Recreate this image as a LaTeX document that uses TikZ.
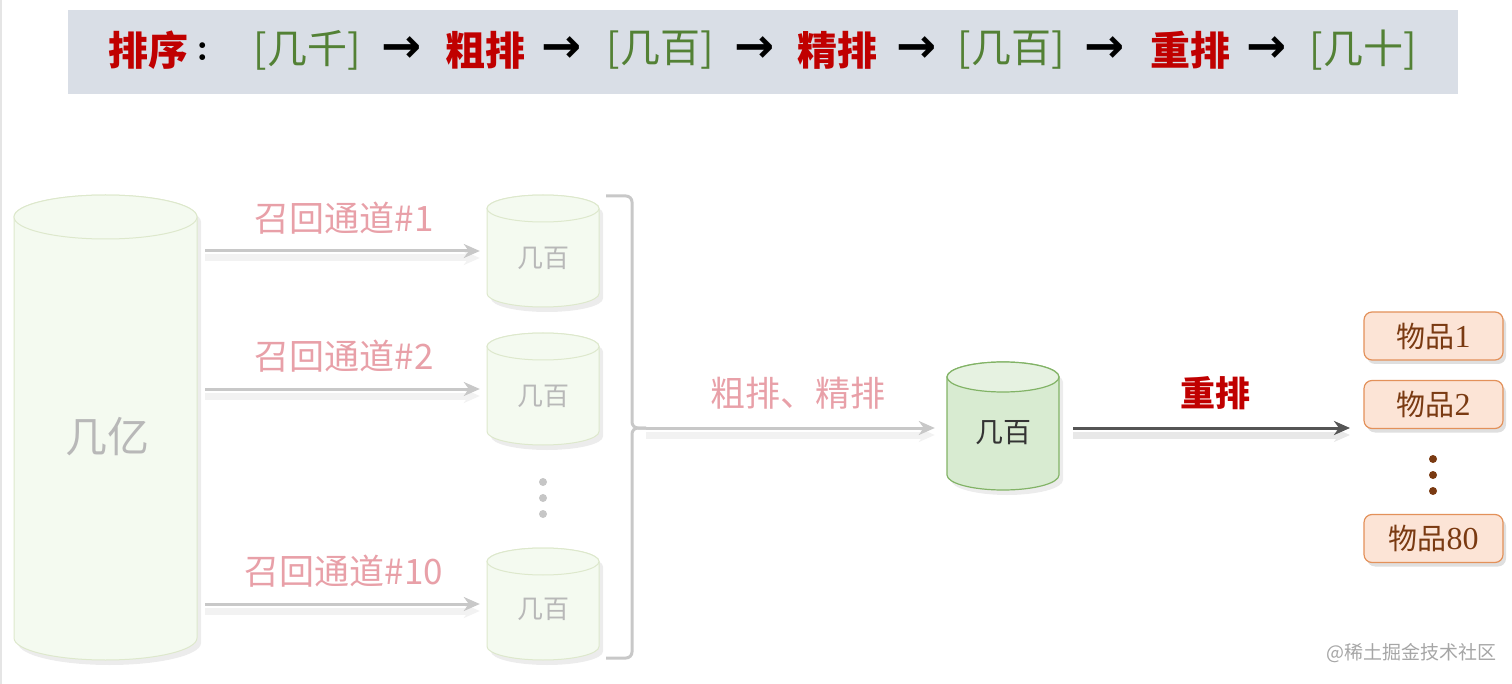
\documentclass[tikz,border=0pt]{standalone}
\usepackage{fontspec}
\newfontfamily\cjk{Noto Sans CJK SC}
\newfontfamily\dv{DejaVu Sans}
\newfontfamily\serifdg{Liberation Serif}
\usetikzlibrary{arrows.meta,shadows,calc}
\definecolor{barbg}{HTML}{D9DEE6}
\definecolor{redt}{HTML}{C00000}
\definecolor{greent}{HTML}{538135}
\definecolor{pinkt}{HTML}{E8A0A8}
\definecolor{fadegray}{HTML}{B8B8B8}
\definecolor{fadearr}{HTML}{C8C8C8}
\definecolor{cylfade}{HTML}{F4FAF0}
\definecolor{cylfadeline}{HTML}{DDE8CC}
\definecolor{cylmid}{HTML}{D8EBD1}
\definecolor{cylmidtop}{HTML}{E6F2E1}
\definecolor{cylmidline}{HTML}{82B366}
\definecolor{itemfill}{HTML}{FCE4D6}
\definecolor{itemline}{HTML}{E3915A}
\definecolor{itemtext}{HTML}{7A3A12}
\definecolor{darkarr}{HTML}{555555}
\newcommand\dbcyl[7]{% style, name, cx, ytop, ybot, rx, ry
  \path[#1,drop shadow={opacity=0.15,shadow xshift=4pt,shadow yshift=-5pt}]
    (#3-#6,-#4) -- (#3-#6,-#5)
    arc[start angle=180,end angle=360,x radius=#6,y radius=#7]
    -- (#3+#6,-#4)
    arc[start angle=0,end angle=180,x radius=#6,y radius=#7] -- cycle;
  \path[#1 top] (#3,-#4) ellipse[x radius=#6,y radius=#7];
  \node[inner sep=0,minimum width=2*#6,minimum height=#5-#4+2*#7] (#2) at (#3,{-(#4+#5)/2}) {};
}
\newcommand\dg[1]{{\serifdg\fontsize{32}{36}\selectfont #1}}
\begin{document}
\begin{tikzpicture}[x=1pt,y=1pt,
  fade/.style={fill=cylfade,draw=cylfadeline,line width=1},
  fade top/.style={fill=cylfade,draw=cylfadeline,line width=1},
  midc/.style={fill=cylmid,draw=cylmidline,line width=1.2},
  midc top/.style={fill=cylmidtop,draw=cylmidline,line width=1.2},
  bartext/.style={inner sep=0,font=\cjk\fontsize{40}{44}\selectfont},
  redword/.style={bartext,text=redt,font=\cjk\bfseries\fontsize{40}{44}\selectfont},
  greenword/.style={bartext,text=greent},
  barrow/.style={inner sep=0,font=\dv\bfseries\fontsize{48}{52}\selectfont,text=black},
  pinklabel/.style={inner sep=0,text=pinkt,font=\cjk\fontsize{35}{38}\selectfont},
  fadetext/.style={inner sep=0,text=fadegray,font=\cjk\fontsize{26}{30}\selectfont},
  fadearrow/.style={draw=fadearr,line width=3,-{Stealth[length=16,width=14,inset=5]},
     preaction={draw=black!5,line width=7,transform canvas={yshift=-7pt}}},
  darkarrow/.style={draw=darkarr,line width=3,-{Stealth[length=16,width=14,inset=5]},
     preaction={draw=black!9,line width=7,transform canvas={yshift=-7pt}}},
  bracestyle/.style={draw=fadearr,line width=3,rounded corners=6},
  item/.style={draw=itemline,fill=itemfill,line width=1.2,rounded corners=8,
     minimum width=139,minimum height=48,inner sep=0,text=itemtext,
     font=\cjk\fontsize{29}{32}\selectfont,
     drop shadow={opacity=0.25,shadow xshift=3pt,shadow yshift=-4pt}},
]
\useasboundingbox (0,0) rectangle (1512,-684);
\draw[draw=black!10,line width=1.5] (1,0) -- (1,-684);

% top bar
\node[fill=barbg,minimum width=1390,minimum height=84,inner sep=0] (bar) at (763,-52) {};
\node[redword,anchor=west] (t0) at (108,-50) {排序};
\node[bartext,text=black,font=\bfseries\fontsize{40}{44}\selectfont] (t0c) at (203,-52) {:};
\node[greenword] (t1) at (307,-50) {[几千]};
\node[barrow] (a1) at (402,-50) {→};
\node[redword] (t2) at (485,-50) {粗排};
\node[barrow] (a2) at (562,-50) {→};
\node[greenword] (t3) at (660,-50) {[几百]};
\node[barrow] (a3) at (755,-50) {→};
\node[redword] (t4) at (837,-50) {精排};
\node[barrow] (a4) at (917,-50) {→};
\node[greenword] (t5) at (1011,-50) {[几百]};
\node[barrow] (a5) at (1105,-50) {→};
\node[redword] (t6) at (1190,-50) {重排};
\node[barrow] (a6) at (1267,-50) {→};
\node[greenword] (t7) at (1363,-50) {[几十]};

% cylinders
\dbcyl{fade}{big}{105.5}{217}{638}{91.5}{22}
\node[fadetext,font=\cjk\fontsize{42}{46}\selectfont] (bigt) at (107,-437) {几亿};
\dbcyl{fade}{c1}{543}{208.5}{293.5}{56}{13.5}
\dbcyl{fade}{c2}{543}{346.5}{431.5}{56}{13.5}
\dbcyl{fade}{c3}{543}{561.5}{646.5}{56}{13.5}
\node[fadetext] (c1t) at (543,-258) {几百};
\node[fadetext] (c2t) at (543,-396) {几百};
\node[fadetext] (c3t) at (543,-609) {几百};
\dbcyl{midc}{mid}{1003}{377}{475}{56}{15}
\node[inner sep=0,text=black!80,font=\cjk\fontsize{28}{32}\selectfont] (midt) at (1003,-433) {几百};

% recall arrows
\draw[fadearrow,shorten <=8,shorten >=7] (big.east |- c1) -- (c1.west);
\draw[fadearrow,shorten <=8,shorten >=7] (big.east |- c2) -- (c2.west);
\draw[fadearrow,shorten <=8,shorten >=7] (big.east |- c3) -- (c3.west);
\node[pinklabel] (l1) at (344,-218) {召回通道\#1};
\node[pinklabel] (l2) at (344,-356) {召回通道\#2};
\node[pinklabel] (l3) at (344,-571) {召回通道\#10};

% dots
\fill[fadegray!80] (543,-482) circle (4) (543,-498) circle (4) (543,-514) circle (4);

% brace
\coordinate (bt) at (646,-428);
\draw[bracestyle] (606,-196) -- (632,-196) -- (632,-428) -- (bt);
\draw[bracestyle] (606,-658) -- (632,-658) -- (632,-428) -- (bt);
\draw[fadearrow,shorten >=12] (bt) -- (bt -| mid.west);
\node[pinklabel] (l4) at (798,-393) {粗排、精排};

% rerank arrow
\coordinate (rt) at (1350,-428);
\draw[darkarrow,shorten <=14] (mid.east |- rt) -- (rt);
\node[redword,font=\cjk\bfseries\fontsize{35}{38}\selectfont] (l5) at (1215,-393) {重排};

% items
\node[item] (i1) at (1433.5,-336) {物品\dg{1}};
\node[item] (i2) at (1433.5,-404.5) {物品\dg{2}};
\node[item] (i3) at (1433.5,-538.5) {物品\dg{80}};
\fill[itemtext] (1433,-459) circle (4) (1433,-475) circle (4) (1433,-491) circle (4);

% watermark
\node[inner sep=0,text=black!35,font=\cjk\fontsize{19}{22}\selectfont] (wm) at (1411,-653) {@稀土掘金技术社区};
\end{tikzpicture}
\end{document}
